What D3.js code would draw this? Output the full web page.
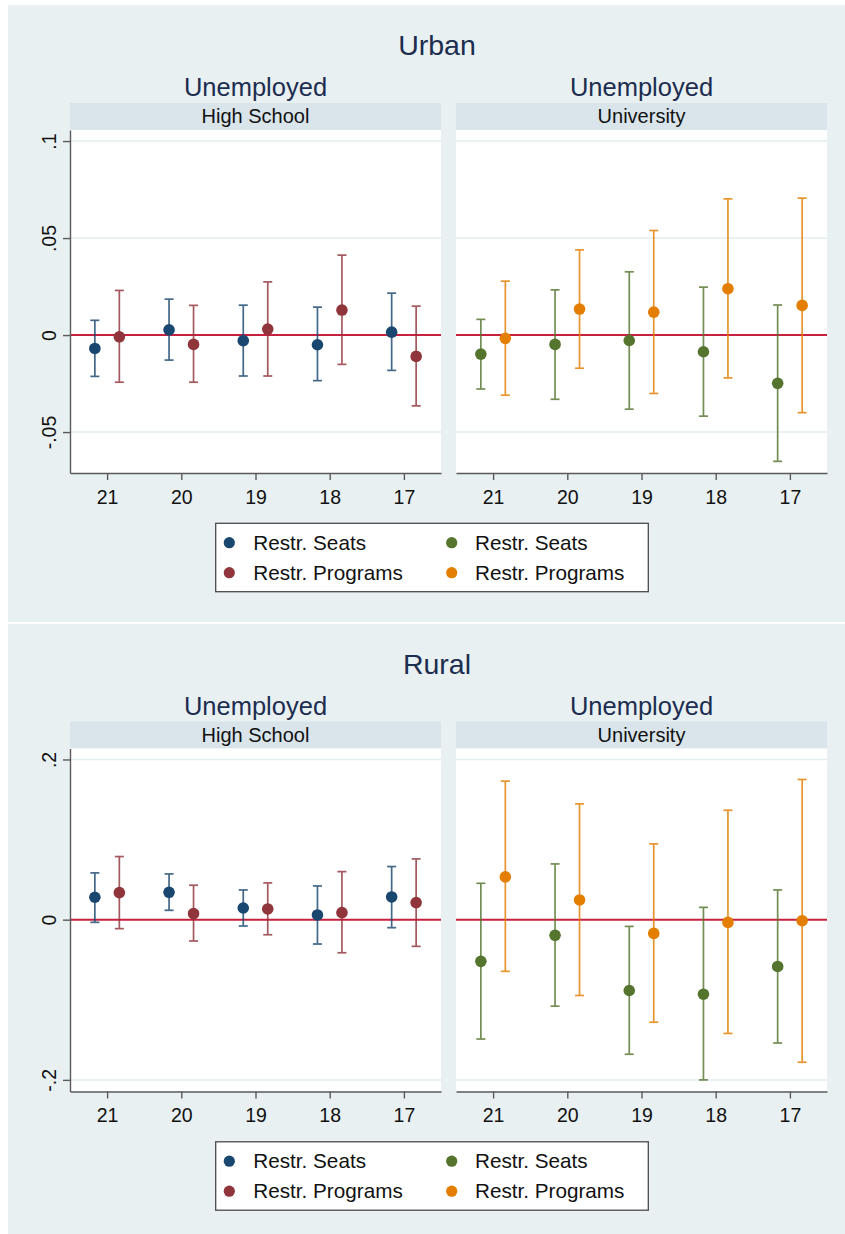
<!DOCTYPE html>
<html><head><meta charset="utf-8">
<script src="https://cdn.jsdelivr.net/npm/d3@7"></script>
<style>body{margin:0;background:#fff}svg{display:block}text{font-family:"Liberation Sans",Arial,sans-serif}</style>
</head><body><svg id="c" width="845" height="1234"></svg>
<script>
// ---------- data ----------
const categories = ["21", "20", "19", "18", "17"];
const seriesLabels = ["Restr. Seats", "Restr. Programs"];
const graphTitles = ["Urban", "Rural"];
const outcomeTitle = "Unemployed";
const panelTitles = ["High School", "University"];

const urbanTicks = [-0.05, 0, 0.05, 0.1];
const urbanTickLabels = ["-.05", "0", ".05", ".1"];
const ruralTicks = [-0.2, 0, 0.2];
const ruralTickLabels = ["-.2", "0", ".2"];

// Urban – High School
const urbanHSSeats   = [-0.0069, 0.0027, -0.0029, -0.0050, 0.0015];
const urbanHSSeatsLo = [-0.0213, -0.0129, -0.0211, -0.0235, -0.0182];
const urbanHSSeatsHi = [0.0076, 0.0185, 0.0154, 0.0144, 0.0216];
const urbanHSProg    = [-0.0009, -0.0048, 0.0031, 0.0129, -0.0110];
const urbanHSProgLo  = [-0.0243, -0.0243, -0.0211, -0.0151, -0.0365];
const urbanHSProgHi  = [0.0230, 0.0153, 0.0274, 0.0412, 0.0149];
// Urban – University
const urbanUSeats    = [-0.0098, -0.0048, -0.0028, -0.0086, -0.0249];
const urbanUSeatsLo  = [-0.0278, -0.0331, -0.0382, -0.0418, -0.0651];
const urbanUSeatsHi  = [0.0081, 0.0233, 0.0326, 0.0247, 0.0155];
const urbanUProg     = [-0.0017, 0.0134, 0.0118, 0.0239, 0.0153];
const urbanUProgLo   = [-0.0310, -0.0171, -0.0301, -0.0221, -0.0400];
const urbanUProgHi   = [0.0278, 0.0439, 0.0539, 0.0702, 0.0706];
// Rural – High School
const ruralHSSeats   = [0.0280, 0.0342, 0.0146, 0.0059, 0.0284];
const ruralHSSeatsLo = [-0.0033, 0.0117, -0.0079, -0.0304, -0.0100];
const ruralHSSeatsHi = [0.0584, 0.0571, 0.0371, 0.0421, 0.0663];
const ruralHSProg    = [0.0338, 0.0075, 0.0134, 0.0088, 0.0213];
const ruralHSProgLo  = [-0.0112, -0.0266, -0.0188, -0.0413, -0.0333];
const ruralHSProgHi  = [0.0788, 0.0430, 0.0459, 0.0600, 0.0759];
// Rural – University
const ruralUSeats    = [-0.0520, -0.0195, -0.0884, -0.0930, -0.0584];
const ruralUSeatsLo  = [-0.1490, -0.1080, -0.1680, -0.2000, -0.1540];
const ruralUSeatsHi  = [0.0454, 0.0696, -0.0084, 0.0154, 0.0371];
const ruralUProg     = [0.0534, 0.0246, -0.0171, -0.0034, -0.0013];
const ruralUProgLo   = [-0.0645, -0.0946, -0.1280, -0.1420, -0.1780];
const ruralUProgHi   = [0.1730, 0.1446, 0.0946, 0.1366, 0.1750];

// ---------- styling ----------
const COL = {
  navy: "#1a476f", maroon: "#90353b", green: "#55752f", orange: "#e37e00",
  bg: "#e8f0f2", strip: "#d9e5eb", grid: "#e3ecef", zero: "#c8203f",
  axis: "#5a5a5a", title: "#1c2d4f", text: "#111"
};

function series(est, lo, hi) {
  return categories.map((c, i) => ({cat: c, est: est[i], lo: lo[i], hi: hi[i]}));
}

const graphs = [
  {
    title: graphTitles[0], off: 0, y0: 5, y1: 622,
    yDomain: [-0.0711, 0.1057], ticks: urbanTicks, tickLabels: urbanTickLabels,
    panels: [
      {sub: panelTitles[0], colors: [COL.navy, COL.maroon],
       data: [series(urbanHSSeats, urbanHSSeatsLo, urbanHSSeatsHi), series(urbanHSProg, urbanHSProgLo, urbanHSProgHi)]},
      {sub: panelTitles[1], colors: [COL.green, COL.orange],
       data: [series(urbanUSeats, urbanUSeatsLo, urbanUSeatsHi), series(urbanUProg, urbanUProgLo, urbanUProgHi)]}
    ]
  },
  {
    title: graphTitles[1], off: 618.5, y0: 624, y1: 1234,
    yDomain: [-0.2145, 0.2137], ticks: ruralTicks, tickLabels: ruralTickLabels,
    panels: [
      {sub: panelTitles[0], colors: [COL.navy, COL.maroon],
       data: [series(ruralHSSeats, ruralHSSeatsLo, ruralHSSeatsHi), series(ruralHSProg, ruralHSProgLo, ruralHSProgHi)]},
      {sub: panelTitles[1], colors: [COL.green, COL.orange],
       data: [series(ruralUSeats, ruralUSeatsLo, ruralUSeatsHi), series(ruralUProg, ruralUProgLo, ruralUProgHi)]}
    ]
  }
];

const svg = d3.select("#c");
const panelX = [[70, 441], [456, 827]];

graphs.forEach(g => {
  const G = svg.append("g");
  const o = g.off;
  G.append("rect").attr("x", 8).attr("y", g.y0).attr("width", 845 - 8).attr("height", g.y1 - g.y0).attr("fill", COL.bg);

  G.append("text").attr("x", 437).attr("y", 55 + o).attr("text-anchor", "middle")
    .attr("font-size", 28.5).attr("fill", COL.title).text(g.title);

  const plotTop = 130 + o, plotBot = 473 + o;
  const y = d3.scaleLinear().domain(g.yDomain).range([plotBot, plotTop]);

  g.panels.forEach((p, pi) => {
    const [xl, xr] = panelX[pi];
    const cx = (xl + xr) / 2;
    const P = G.append("g");
    P.append("text").attr("x", cx).attr("y", 96 + o).attr("text-anchor", "middle")
      .attr("font-size", 25.5).attr("fill", COL.title).text(outcomeTitle);
    P.append("rect").attr("x", xl).attr("y", 103 + o).attr("width", xr - xl).attr("height", 27).attr("fill", COL.strip);
    P.append("text").attr("x", cx).attr("y", 123.3 + o).attr("text-anchor", "middle")
      .attr("font-size", 20).attr("fill", COL.text).text(p.sub);
    P.append("rect").attr("x", xl).attr("y", plotTop).attr("width", xr - xl).attr("height", plotBot - plotTop).attr("fill", "#fff");

    // gridlines
    P.selectAll(".grid").data(g.ticks.filter(t => t !== 0)).enter().append("line")
      .attr("x1", xl).attr("x2", xr).attr("y1", d => y(d)).attr("y2", d => y(d))
      .attr("stroke", COL.grid).attr("stroke-width", 1.5);
    // zero line
    P.append("line").attr("x1", xl).attr("x2", xr).attr("y1", y(0)).attr("y2", y(0))
      .attr("stroke", COL.zero).attr("stroke-width", 2);

    const x = d3.scalePoint().domain(categories).range([xl, xr]).padding(0.5);
    const dx = x.step() * 0.165;
    const capW = 4.5;

    p.data.forEach((s, si) => {
      const col = p.colors[si];
      const shift = si === 0 ? -dx : dx;
      const S = P.append("g");
      const ci = S.selectAll(".ci").data(s).enter().append("g").attr("opacity", 0.82);
      ci.append("line").attr("x1", d => x(d.cat) + shift).attr("x2", d => x(d.cat) + shift)
        .attr("y1", d => y(d.lo)).attr("y2", d => y(d.hi)).attr("stroke", col).attr("stroke-width", 1.7);
      ci.append("line").attr("x1", d => x(d.cat) + shift - capW).attr("x2", d => x(d.cat) + shift + capW)
        .attr("y1", d => y(d.lo)).attr("y2", d => y(d.lo)).attr("stroke", col).attr("stroke-width", 1.7);
      ci.append("line").attr("x1", d => x(d.cat) + shift - capW).attr("x2", d => x(d.cat) + shift + capW)
        .attr("y1", d => y(d.hi)).attr("y2", d => y(d.hi)).attr("stroke", col).attr("stroke-width", 1.7);
      S.selectAll(".pt").data(s).enter().append("circle")
        .attr("cx", d => x(d.cat) + shift).attr("cy", d => y(d.est)).attr("r", 5.8).attr("fill", col);
    });

    // x axis
    const xa = P.append("g").attr("transform", `translate(0,${plotBot})`)
      .call(d3.axisBottom(x).tickSize(7).tickSizeOuter(0).tickPadding(6));
    xa.select(".domain").attr("stroke", COL.axis).attr("stroke-width", 1.4);
    xa.selectAll(".tick line").attr("stroke", COL.axis).attr("stroke-width", 1.4);
    xa.selectAll(".tick text").attr("font-size", 19.5).attr("fill", COL.text)
      .attr("font-family", '"Liberation Sans",Arial,sans-serif').attr("dy", null).attr("y", 30.5);

    if (pi === 0) {
      const ya = P.append("g").attr("transform", `translate(${xl},0)`)
        .call(d3.axisLeft(y).tickValues(g.ticks).tickFormat((d, i) => g.tickLabels[i]).tickSize(7).tickSizeOuter(0));
      ya.select(".domain").attr("stroke", COL.axis).attr("stroke-width", 1.4);
      ya.selectAll(".tick line").attr("stroke", COL.axis).attr("stroke-width", 1.4);
      ya.selectAll(".tick text").attr("font-size", 19.5).attr("fill", COL.text)
        .attr("font-family", '"Liberation Sans",Arial,sans-serif')
        .attr("x", null).attr("dy", null).attr("text-anchor", "middle")
        .attr("transform", "translate(-14,0) rotate(-90)");
    }
  });

  // legend
  const L = G.append("g");
  L.append("rect").attr("x", 215.7).attr("y", 523.3 + o).attr("width", 432.6).attr("height", 68.4)
    .attr("fill", "#fff").attr("stroke", "#4a4a4a").attr("stroke-width", 1.3);
  const legendItems = [
    {label: seriesLabels[0], color: g.panels[0].colors[0], col: 0, row: 0},
    {label: seriesLabels[1], color: g.panels[0].colors[1], col: 0, row: 1},
    {label: seriesLabels[0], color: g.panels[1].colors[0], col: 1, row: 0},
    {label: seriesLabels[1], color: g.panels[1].colors[1], col: 1, row: 1}
  ];
  const lx = [229.3, 451.7], ltx = [253.3, 475];
  legendItems.forEach(it => {
    const cy = 542.7 + o + it.row * 30;
    L.append("circle").attr("cx", lx[it.col]).attr("cy", cy).attr("r", 5.6).attr("fill", it.color);
    L.append("text").attr("x", ltx[it.col]).attr("y", cy + 7).attr("font-size", 20.7).attr("fill", COL.text).text(it.label);
  });
});
</script></body></html>
